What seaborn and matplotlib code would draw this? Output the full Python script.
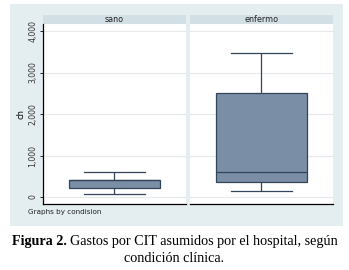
import matplotlib
matplotlib.use("Agg")
import matplotlib.pyplot as plt
import seaborn as sns
import pandas as pd
from matplotlib.patches import Rectangle

# Data: five-number summaries (min, Q1, median, Q3, max)
conditions = ["sano", "enfermo"]
sano_values = [65, 210, 400, 400, 600]
enfermo_values = [145, 354, 600, 2500, 3480]
yticks = [0, 1000, 2000, 3000, 4000]
ytick_labels = ["0", "1,000", "2,000", "3,000", "4,000"]

df = pd.DataFrame({
    "condision": ["sano"] * len(sano_values) + ["enfermo"] * len(enfermo_values),
    "ch": sano_values + enfermo_values,
})

W, H = 349, 270
fig = plt.figure(figsize=(W / 100, H / 100), dpi=100)
fig.patch.set_facecolor("white")

bg = "#e4edf0"
strip = "#d2dfe5"
boxcol = "#7a8ea6"
edgecol = "#34455a"

# outer graph region
fig.patches.append(Rectangle((10 / W, 1 - 226 / H), 333 / W, 222 / H,
                             transform=fig.transFigure, facecolor=bg,
                             edgecolor="none", zorder=-5))

panels = {"sano": 43, "enfermo": 190}
ax_bottom = 1 - 204.3 / H
ax_top = 1 - 24 / H
axes = []
for i, cond in enumerate(conditions):
    left = panels[cond] / W
    width = 142.5 / W
    ax = fig.add_axes([left, ax_bottom, width, ax_top - ax_bottom])
    ax.set_zorder(5)
    sub = df[df["condision"] == cond]
    sns.boxplot(data=sub, y="ch", ax=ax, width=0.64, color=boxcol,
                linecolor=edgecol, linewidth=0.9, fliersize=0,
                capwidths=0.43, saturation=1)
    ax.set_xlim(-0.5, 0.5)
    ax.set_ylim(-176, 4169)
    ax.set_yticks(yticks)
    ax.set_facecolor("white")
    ax.grid(axis="y", color="#e4eaec", linewidth=0.8)
    ax.set_axisbelow(True)
    ax.set_xticks([])
    ax.set_xlabel("")
    for s in ["top", "right"]:
        ax.spines[s].set_visible(False)
    ax.spines["bottom"].set_color("black")
    ax.spines["bottom"].set_linewidth(0.9)
    if i == 0:
        ax.spines["left"].set_color("black")
        ax.spines["left"].set_linewidth(0.9)
        ax.set_yticklabels(ytick_labels, rotation=90, va="center", fontsize=5.6,
                           color="#333333")
        ax.tick_params(axis="y", length=2.5, width=0.6, pad=1.5)
        ax.set_ylabel("ch", fontsize=6, labelpad=2)
    else:
        ax.spines["left"].set_visible(False)
        ax.set_yticklabels([])
        ax.tick_params(axis="y", length=0)
        ax.set_ylabel("")
    # header strip
    fig.patches.append(Rectangle((left, ax_top), width, 9 / H,
                                 transform=fig.transFigure, facecolor=strip,
                                 edgecolor="none", zorder=1))
    fig.text(left + width / 2, ax_top + 4.5 / H, cond, ha="center", va="center",
             fontsize=5.8, color="#222222")
    axes.append(ax)

fig.text(28 / W, 1 - 212 / H, "Graphs by condision", ha="left", va="center",
         fontsize=5.2, color="#222222")

# caption line 1 (bold + regular)
t1 = fig.text(12 / W, 1 - 242 / H, "Figura 2.", ha="left", va="center",
              fontsize=10.2, fontweight="bold", family="Liberation Serif")
fig.canvas.draw()
bb = t1.get_window_extent()
fig.text((bb.x1 + 3) / W, 1 - 242 / H,
         "Gastos por CIT asumidos por el hospital, según", ha="left",
         va="center", fontsize=10.2, family="Liberation Serif")
fig.text(0.5, 1 - 258 / H, "condición clínica.", ha="center", va="center",
         fontsize=10.2, family="Liberation Serif")

fig.savefig("out.png", dpi=100)
